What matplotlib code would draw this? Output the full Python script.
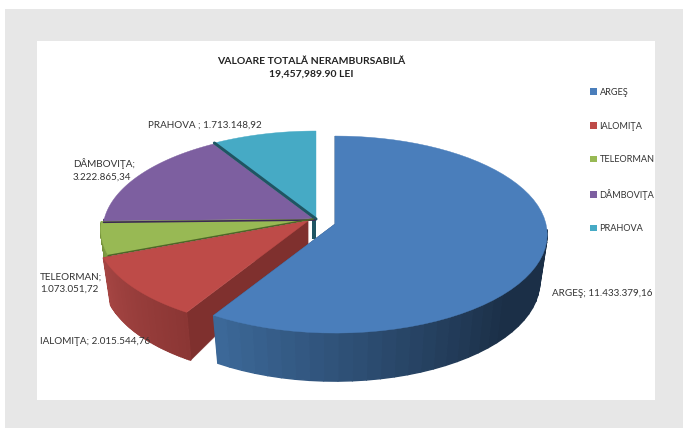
import numpy as np
import matplotlib
matplotlib.use("Agg")
import matplotlib.pyplot as plt
from matplotlib.patches import Polygon, Rectangle, Patch

plt.rcParams['font.family'] = ['Lato', 'DejaVu Sans']

judete = ['ARGEŞ', 'IALOMIŢA', 'TELEORMAN', 'DÂMBOVIŢA', 'PRAHOVA']
valori = [11433379.16, 2015544.76, 1073051.72, 3222865.34, 1713148.92]
etichete = ['ARGEŞ; 11.433.379,16', 'IALOMIŢA; 2.015.544,76', 'TELEORMAN;\n1.073.051,72',
            'DÂMBOVIŢA;\n3.222.865,34', 'PRAHOVA ; 1.713.148,92']
titlu = 'VALOARE TOTALĂ NERAMBURSABILĂ\n19,457,989.90 LEI'

culori = ['#4a7ebb', '#be4b48', '#98b954', '#7d5fa0', '#46aac5']
culori_taiere = ['#2c4d74', '#7f302e', '#4f6628', '#3b2a52', '#1f5563']
perete_st = ['#3d6a9b', '#a54543', '#7f9c42', '#5f4780', '#358296']
perete_dr = ['#1b2f47', '#8b3634', '#6a8436', '#4f3a6c', '#2a6b7c']
# varful fiecarei felii, in pixeli
varfuri = [(335, 224), (308, 221), (313, 219), (315, 220), (316, 219)]

R, S, k = 211, 97.4, 0.107
ADANCIME = 47


def margine(unghi, varf, jos=False):
    # cerc vazut in perspectiva, unghiul creste in sensul acelor de la ora 12
    t = np.radians(unghi)
    w = 1 + k * np.cos(t)
    scara_x, scara_y, dy = (0.965, 1.01, ADANCIME) if jos else (1, 1, 0)
    return (varf[0] + scara_x * R * np.sin(t) / w,
            varf[1] + dy - scara_y * S * np.cos(t) / w)


fig = plt.figure(figsize=(6.83, 4.28), dpi=100, facecolor='white')
ax = fig.add_axes([0, 0, 1, 1])
ax.set_xlim(0, 683)
ax.set_ylim(428, 0)
ax.axis('off')

ax.add_patch(Rectangle((5, 9), 678, 419, color='#e7e7e7', lw=0, zorder=0))
ax.add_patch(Rectangle((37, 41), 618, 359, color='white', lw=0, zorder=1))

unghiuri = np.concatenate([[0], np.cumsum(valori) / np.sum(valori) * 360])

# din spate spre fata: ultima felie desenata e cea mai apropiata
for z, i in enumerate([4, 3, 2, 1, 0]):
    a0, a1 = unghiuri[i], unghiuri[i + 1]
    v = varfuri[i]
    baza = 2 + z * 2
    ts = np.linspace(a0, a1, 60)

    # fata taieturii, doar la feliile unde se vede
    if i in (0, 1):
        for a in (a0, a1):
            xt, yt = margine(a, v)
            xb, yb = margine(a, v, jos=True)
            ax.add_patch(Polygon([v, (xt, yt), (xb, yb), (v[0], v[1] + ADANCIME * 0.5)],
                                 closed=True, fc=culori_taiere[i], ec=culori_taiere[i],
                                 lw=0.3, zorder=baza))

    # peretele lateral cu gradient
    c0 = np.array(matplotlib.colors.to_rgb(perete_st[i]))
    c1 = np.array(matplotlib.colors.to_rgb(perete_dr[i]))
    n = len(ts) - 1
    for j in range(n):
        if not 90 < ts[j] < 270:
            continue
        if i == 0:
            f = np.clip((ts[j] - 130) / 81, 0, 1)
        else:
            f = j / n
        c = c1 + (c0 - c1) * f
        p = [margine(ts[j], v), margine(ts[j + 1], v),
             margine(ts[j + 1], v, jos=True), margine(ts[j], v, jos=True)]
        ax.add_patch(Polygon(p, closed=True, fc=c, ec=c, lw=1.0, zorder=baza))

    # fata de sus
    xs, ys = margine(ts, v)
    ax.add_patch(Polygon(np.column_stack([np.r_[v[0], xs], np.r_[v[1], ys]]),
                         closed=True, fc=culori[i], ec=culori[i], lw=0.3, zorder=baza + 1))

# coltul inchis al feliei PRAHOVA, sub varf
vx, vy = varfuri[4]
ax.add_patch(Polygon([(vx - 4, vy), (vx, vy), (vx, vy + 20), (vx - 4, vy + 20)], closed=True,
                     fc=culori_taiere[4], ec='none', zorder=3))

# liniile inchise dintre felii
for i in [4, 3, 2]:
    xm, ym = margine(unghiuri[i], varfuri[i])
    ax.plot([xm, varfuri[i][0]], [ym, varfuri[i][1]], color=culori_taiere[i], lw=2.2 if i == 4 else 1.2,
            solid_capstyle='round', zorder=7)

ax.text(311, 67.5, titlu, ha='center', va='center', fontsize=7.5, fontweight='bold',
        color='#222222', linespacing=1.55, zorder=20)

pozitii_etichete = [(552, 293, 'left'), (40, 341, 'left'), (40, 283, 'left'), (73, 170, 'left'), (148, 125, 'left')]
for text, (x, y, ha) in zip(etichete, pozitii_etichete):
    ax.text(x, y, text, ha=ha, va='center', fontsize=7.1, color='#333333', linespacing=1.5, zorder=20)

handles = [Patch(fc=c, ec='none') for c in culori]
ax.legend(handles, judete, loc='upper left', bbox_to_anchor=(590 / 683, 1 - 88 / 428), frameon=False,
          fontsize=6.6, labelcolor='#333333', handlelength=0.75, handleheight=0.75, handletextpad=0.3,
          labelspacing=2.68, borderpad=0, borderaxespad=0)

fig.savefig('out.png', dpi=100, facecolor='white')
